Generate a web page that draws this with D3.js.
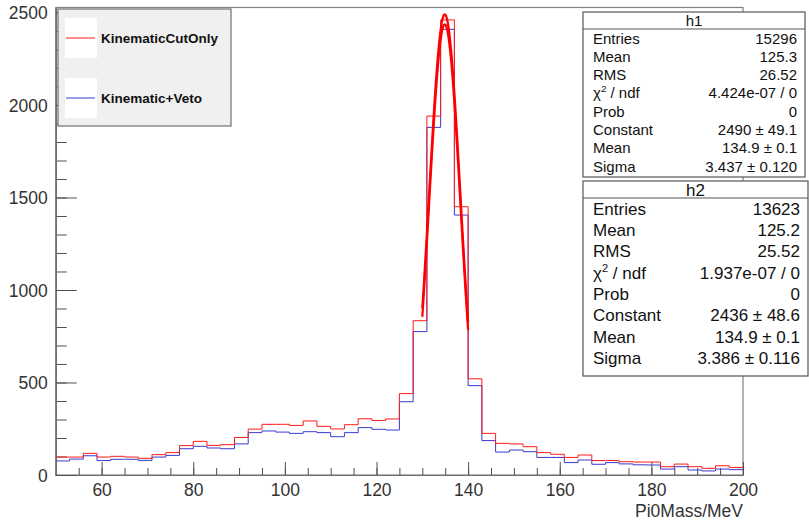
<!DOCTYPE html>
<html>
<head>
<meta charset="utf-8">
<script src="https://cdn.jsdelivr.net/npm/d3@7"></script>
<style>
  body { margin: 0; background: #fff; }
  svg text { font-family: "Liberation Sans", Arial, sans-serif; }
</style>
</head>
<body>
<div id="chart"></div>
<script>
// binning of both histograms: 50 bins of 3 MeV from 50 to 200
var binStart = 50;
var binWidth = 3;

// KinematicCutOnly (h1), counts per bin
var cutOnly = [97, 97, 117, 97, 101, 97, 90, 110, 121, 159,
    182, 160, 164, 203, 248, 274, 274, 268, 292, 263,
    249, 272, 304, 295, 303, 440, 834, 1940, 2460, 1450,
    520, 225, 171, 168, 153, 121, 112, 95, 108, 78,
    78, 72, 70, 70, 45, 59, 45, 36, 50, 41];

// Kinematic+Veto (h2), counts per bin
var withVeto = [76, 86, 104, 78, 85, 85, 79, 97, 106, 142,
    155, 146, 142, 168, 229, 238, 232, 225, 234, 229,
    207, 229, 256, 247, 243, 396, 775, 1879, 2409, 1405,
    483, 186, 124, 135, 126, 95, 95, 67, 81, 58,
    67, 60, 55, 54, 32, 45, 27, 22, 32, 29];

// gaussian fit parameters [constant, mean, sigma] and fit range
var fitH1 = [2490, 134.9, 3.437];
var fitH2 = [2436, 134.9, 3.386];
var fitRange = [130, 140];

var xTicks = [60, 80, 100, 120, 140, 160, 180, 200];
var yTicks = [0, 500, 1000, 1500, 2000, 2500];

var legendNames = ["KinematicCutOnly", "Kinematic+Veto"];

var statLabels = ["Entries", "Mean", "RMS", "chi", "Prob", "Constant", "Mean", "Sigma"];
var statsH1 = ["15296", "125.3", "26.52", "4.424e-07 / 0", "0", "2490 \u00b1 49.1", "134.9 \u00b1 0.1", "3.437 \u00b1 0.120"];
var statsH2 = ["13623", "125.2", "25.52", "1.937e-07 / 0", "0", "2436 \u00b1 48.6", "134.9 \u00b1 0.1", "3.386 \u00b1 0.116"];

var width = 809, height = 523;
var padL = 55.8, padR = 743, padT = 7.5, padB = 475;

var svg = d3.select("#chart")
    .append("svg")
    .attr("width", width)
    .attr("height", height);

var x = d3.scaleLinear().domain([50, 200]).range([padL, padR]);
var y = d3.scaleLinear().domain([0, 2527]).range([padB, padT]);

// frame
svg.append("rect")
    .attr("x", padL)
    .attr("y", padT)
    .attr("width", padR - padL)
    .attr("height", padB - padT)
    .attr("fill", "none")
    .attr("stroke", "#808080")
    .attr("stroke-width", 1.2);

// x axis, major + minor ticks drawn inwards
var xMinor = svg.append("g")
    .attr("transform", "translate(0," + padB + ")")
    .call(d3.axisBottom(x).tickValues(d3.range(50, 201, 5)).tickSizeInner(-7).tickSizeOuter(0).tickFormat(""));
var xMajor = svg.append("g")
    .attr("transform", "translate(0," + padB + ")")
    .call(d3.axisBottom(x).tickValues(xTicks).tickSizeInner(-13).tickSizeOuter(0).tickPadding(6));

// y axis
var yMinor = svg.append("g")
    .attr("transform", "translate(" + padL + ",0)")
    .call(d3.axisLeft(y).tickValues(d3.range(0, 2501, 100)).tickSizeInner(-11).tickSizeOuter(0).tickFormat(""));
var yMajor = svg.append("g")
    .attr("transform", "translate(" + padL + ",0)")
    .call(d3.axisLeft(y).tickValues(yTicks).tickSizeInner(-21).tickSizeOuter(0).tickPadding(8).tickFormat(d3.format("d")));

[xMinor, xMajor, yMinor, yMajor].forEach(function (g) {
    g.selectAll("path").attr("stroke", "#707070").attr("stroke-width", 1.2);
    g.selectAll("line").attr("stroke", "#505050");
    g.selectAll("text")
        .attr("fill", "#333")
        .style("font-size", "17.5px");
});
xMajor.selectAll("text").attr("dy", "0.85em");
yMajor.selectAll("text").attr("dy", "0.36em");

svg.append("text")
    .text("Pi0Mass/MeV")
    .attr("x", padR)
    .attr("y", 517)
    .attr("text-anchor", "end")
    .attr("fill", "#333")
    .style("font-size", "17.5px");

// histogram outlines
function stepPath(counts) {
    var pts = [];
    counts.forEach(function (c, i) {
        pts.push([binStart + i * binWidth, c]);
        pts.push([binStart + (i + 1) * binWidth, c]);
    });
    return d3.line().x(function (d) { return x(d[0]); }).y(function (d) { return y(d[1]); })(pts);
}

svg.append("path")
    .attr("d", stepPath(withVeto))
    .attr("fill", "none")
    .attr("stroke", "#3a3ad0")
    .attr("stroke-width", 1);

svg.append("path")
    .attr("d", stepPath(cutOnly))
    .attr("fill", "none")
    .attr("stroke", "#ff1a1a")
    .attr("stroke-width", 1);

// gaussian fits
function gaus(p, v) {
    return p[0] * Math.exp(-0.5 * Math.pow((v - p[1]) / p[2], 2));
}
var fitLine = d3.line().x(function (d) { return x(d[0]); }).y(function (d) { return y(d[1]); });
[fitH2, fitH1].forEach(function (p) {
    var pts = d3.range(fitRange[0], fitRange[1] + 0.001, 0.1).map(function (v) { return [v, gaus(p, v)]; });
    svg.append("path")
        .attr("d", fitLine(pts))
        .attr("fill", "none")
        .attr("stroke", "#ff0000")
        .attr("stroke-width", 2.2);
});

// legend
var legend = svg.append("g");
legend.append("rect")
    .attr("x", 58).attr("y", 9)
    .attr("width", 173).attr("height", 117)
    .attr("fill", "#f0f0f0")
    .attr("stroke", "#707070")
    .attr("stroke-width", 1.2);
var legendColors = ["#ff1a1a", "#3a3ad0"];
legendNames.forEach(function (name, i) {
    var cy = 38 + i * 60;
    legend.append("rect")
        .attr("x", 65).attr("y", cy - 20)
        .attr("width", 32).attr("height", 40)
        .attr("fill", "#fff");
    legend.append("line")
        .attr("x1", 66).attr("x2", 95)
        .attr("y1", cy).attr("y2", cy)
        .attr("stroke", legendColors[i])
        .attr("stroke-width", 1);
    legend.append("text")
        .text(name)
        .attr("x", 101)
        .attr("y", cy + 5)
        .attr("fill", "#111")
        .style("font-size", "13.5px")
        .style("font-weight", "bold");
});

// stats boxes
function statsBox(title, values, bx, by, bw, bh, headH, rowH, fs) {
    var g = svg.append("g");
    g.append("rect")
        .attr("x", bx).attr("y", by)
        .attr("width", bw).attr("height", bh)
        .attr("fill", "#fff")
        .attr("stroke", "#555")
        .attr("stroke-width", 1.2);
    g.append("line")
        .attr("x1", bx).attr("x2", bx + bw)
        .attr("y1", by + headH).attr("y2", by + headH)
        .attr("stroke", "#555")
        .attr("stroke-width", 1);
    g.append("text")
        .text(title)
        .attr("x", bx + bw / 2)
        .attr("y", by + headH / 2)
        .attr("dy", "0.36em")
        .attr("text-anchor", "middle")
        .attr("fill", "#111")
        .style("font-size", fs + "px");
    statLabels.forEach(function (lab, i) {
        var ty = by + headH + rowH * (i + 0.5);
        var t = g.append("text")
            .attr("x", bx + 10)
            .attr("y", ty)
            .attr("dy", "0.36em")
            .attr("fill", "#111")
            .style("font-size", fs + "px");
        if (lab === "chi") {
            t.append("tspan").text("\u03c7");
            t.append("tspan").text("2").attr("dy", -fs * 0.4).style("font-size", (fs * 0.65) + "px");
            t.append("tspan").text(" / ndf").attr("dy", fs * 0.4);
        } else {
            t.text(lab);
        }
        g.append("text")
            .text(values[i])
            .attr("x", bx + bw - 8)
            .attr("y", ty)
            .attr("dy", "0.36em")
            .attr("text-anchor", "end")
            .attr("fill", "#111")
            .style("font-size", fs + "px");
    });
}

statsBox("h1", statsH1, 583, 12, 222, 165, 17, 18.3, 15);
statsBox("h2", statsH2, 583, 181, 225, 195, 17, 21.3, 17);
</script>
</body>
</html>
